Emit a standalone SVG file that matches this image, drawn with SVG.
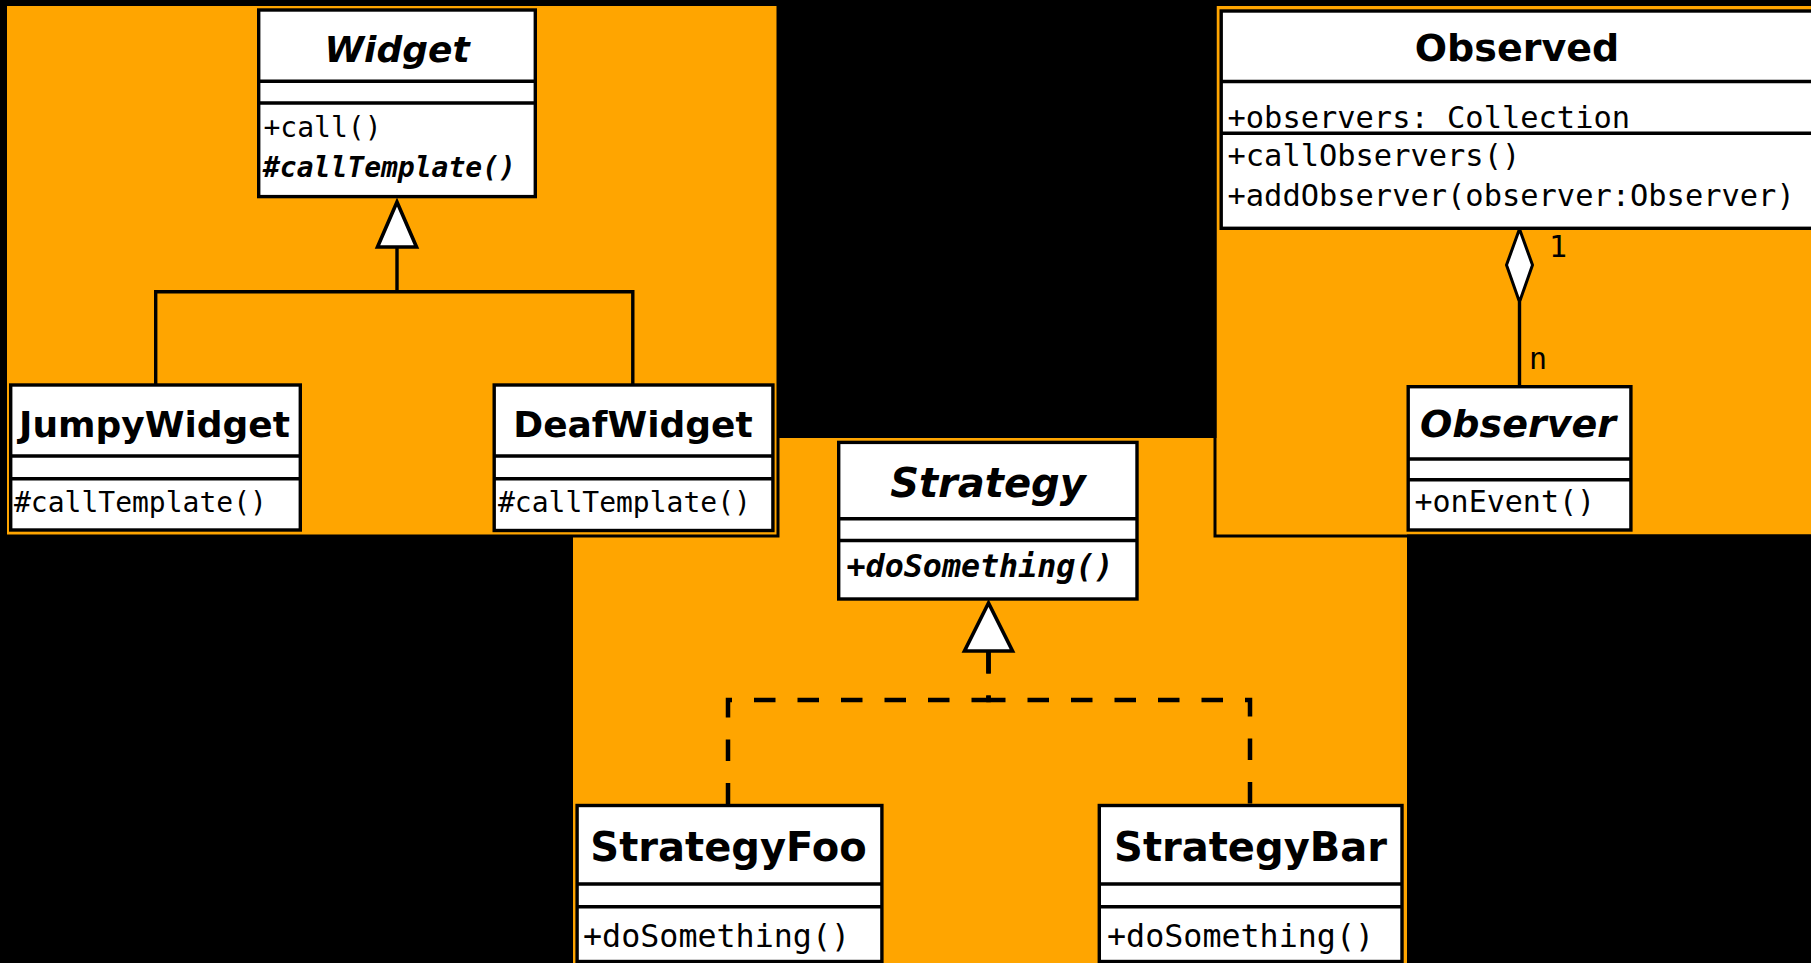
<svg xmlns="http://www.w3.org/2000/svg" width="1811" height="963" viewBox="0 0 1811 963">
<style>
.bg{fill:#FFA500;stroke:none}
.edge{stroke:#000;stroke-width:3;fill:none}
.box{fill:#fff;stroke:#000;stroke-width:3.4}
.div{stroke:#000;stroke-width:3.4}
.name{font-family:"DejaVu Sans",sans-serif;font-weight:bold;text-anchor:middle;fill:#000}
.abs{font-style:italic}
.mono{font-family:"DejaVu Sans Mono",monospace;fill:#000}
.bi{font-weight:bold;font-style:italic}
.con{fill:none;stroke:#000;stroke-width:3.4}
.dash{fill:none;stroke:#000;stroke-width:4.5;stroke-dasharray:21.5 22}
.head{fill:#fff;stroke:#000;stroke-width:3.6;stroke-linejoin:miter}
</style>
<rect x="0" y="0" width="1811" height="963" fill="#000"/>
<g id="backgrounds">
<rect class="bg" x="573" y="438" width="834" height="530"/>
<rect class="bg" x="7" y="6" width="770" height="529"/>
<path class="edge" d="M778,6 V537.5 M7,536 H779.5"/>
<rect class="bg" x="1216.5" y="6" width="600" height="528.5"/>
<path class="edge" d="M1215,6 V537.5 M1213.5,536 H1811"/>
</g>
<g id="connectors">
<path class="con" d="M155.7,385 V291.7 H632.8 V385 M397,291.7 V247"/>
<polygon class="head" points="397,202 377.5,247 416.5,247"/>
<path class="dash" d="M988.5,652 V700 H728 V805"/>
<path class="dash" d="M988.5,652 V700 H1250 V805"/>
<polygon class="head" points="988.5,603 964.5,651 1012.5,651"/>
<path class="con" d="M1519.5,302 V386"/>
<polygon class="head" style="stroke-width:3" points="1519.5,229 1532.5,265 1519.5,302 1506.5,265"/>
<text class="mono" x="1549" y="256.7" font-size="30">1</text>
<text class="mono" x="1529" y="369.3" font-size="30">n</text>
</g>
<g id="Widget">
<rect class="box" x="258.7" y="10" width="276.6" height="186.6"/>
<path class="div" d="M258.7,81.3 H535.3 M258.7,103 H535.3"/>
<text class="name abs" x="397" y="61.7" font-size="36">Widget</text>
<text class="mono" x="263.5" y="136.7" font-size="28">+call()</text>
<text class="mono bi" x="263" y="176.7" font-size="28">#callTemplate()</text>
</g>
<g id="JumpyWidget">
<rect class="box" x="10.7" y="385" width="289.6" h="0" height="145"/>
<path class="div" d="M10.7,456 H300.3 M10.7,478.7 H300.3"/>
<text class="name" x="154.5" y="436.7" font-size="36">JumpyWidget</text>
<text class="mono" x="14" y="511.7" font-size="28">#callTemplate()</text>
</g>
<g id="DeafWidget">
<rect class="box" x="494.2" y="385" width="278.7" height="145.5"/>
<path class="div" d="M494.2,456 H772.9 M494.2,478.7 H772.9"/>
<text class="name" x="633" y="436.7" font-size="36">DeafWidget</text>
<text class="mono" x="498" y="511.7" font-size="28">#callTemplate()</text>
</g>
<g id="Observed">
<rect class="box" x="1221.2" y="11" width="600" height="217.3"/>
<path class="div" d="M1221.2,81.5 H1811 M1221.2,133.3 H1811"/>
<text class="name" x="1517" y="61" font-size="38">Observed</text>
<text class="mono" x="1227.5" y="127.7" font-size="30.4">+observers: Collection</text>
<text class="mono" x="1227.5" y="166" font-size="30.4">+callObservers()</text>
<text class="mono" x="1227.5" y="206" font-size="30.4">+addObserver(observer:Observer)</text>
</g>
<g id="Observer">
<rect class="box" x="1408.2" y="386.7" width="222.7" height="143.3"/>
<path class="div" d="M1408.2,459 H1630.9 M1408.2,479.7 H1630.9"/>
<text class="name abs" x="1518" y="436.7" font-size="38">Observer</text>
<text class="mono" x="1414.5" y="511.7" font-size="30">+onEvent()</text>
</g>
<g id="Strategy">
<rect class="box" x="838.7" y="442.4" width="298.3" height="156.6"/>
<path class="div" d="M838.7,518.7 H1137 M838.7,540.5 H1137"/>
<text class="name abs" x="988" y="497.3" font-size="40">Strategy</text>
<text class="mono bi" x="846.5" y="576.7" font-size="31.7">+doSomething()</text>
</g>
<g id="StrategyFoo">
<rect class="box" x="577.1" y="805.5" width="304.8" height="156"/>
<path class="div" d="M577.1,884 H881.9 M577.1,906.7 H881.9"/>
<text class="name" x="728.5" y="861" font-size="40">StrategyFoo</text>
<text class="mono" x="583" y="946.7" font-size="31.7">+doSomething()</text>
</g>
<g id="StrategyBar">
<rect class="box" x="1099.3" y="805.5" width="302.7" height="156"/>
<path class="div" d="M1099.3,884 H1402 M1099.3,906.7 H1402"/>
<text class="name" x="1250.5" y="861" font-size="40">StrategyBar</text>
<text class="mono" x="1107" y="946.7" font-size="31.7">+doSomething()</text>
</g>
</svg>
